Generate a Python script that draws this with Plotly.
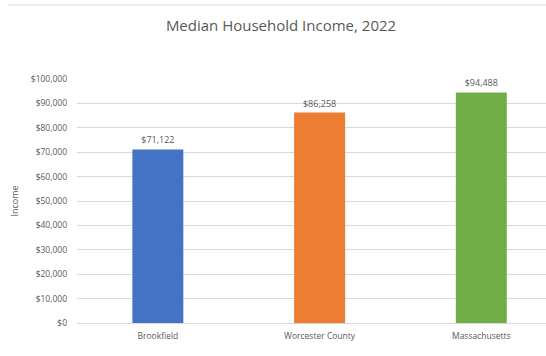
import plotly.graph_objects as go

categories = ["Brookfield", "Worcester County", "Massachusetts"]
values = [71122, 86258, 94488]
colors = ["#4472C4", "#ED7D31", "#70AD47"]
tick_vals = [0, 10000, 20000, 30000, 40000, 50000, 60000, 70000, 80000, 90000, 100000]
tick_text = ["$0", "$10,000", "$20,000", "$30,000", "$40,000", "$50,000",
             "$60,000", "$70,000", "$80,000", "$90,000", "$100,000"]
labels = ["${:,}".format(v) for v in values]

FONT = "Open Sans"
GRAY = "#595959"

fig = go.Figure(go.Bar(
    x=categories, y=values, marker=dict(color=colors, line=dict(width=0)),
    text=labels, textposition="outside", cliponaxis=False,
    textfont=dict(family=FONT, size=9, color=GRAY), width=0.315,
))

fig.update_layout(
    width=546, height=356,
    margin=dict(l=77, r=0, t=79, b=33),
    paper_bgcolor="white", plot_bgcolor="white",
    showlegend=False,
    title=dict(text="Median Household Income, 2022", x=281/546, xanchor="center",
               y=1 - 26/356, yanchor="middle",
               font=dict(family=FONT, size=15, color=GRAY)),
    xaxis=dict(range=[-0.5, 2.4], showgrid=False, showline=True, linecolor="#d9d9d9",
               linewidth=1, ticks="", ticklabelstandoff=5,
               tickfont=dict(family=FONT, size=8.5, color=GRAY)),
    yaxis=dict(range=[0, 100000], tickvals=tick_vals, ticktext=tick_text,
               showgrid=True, gridcolor="#d9d9d9", gridwidth=1, zeroline=False,
               ticks="", ticklabelstandoff=9,
               tickfont=dict(family=FONT, size=8.5, color=GRAY),
               title=dict(text="Income", font=dict(family=FONT, size=9, color=GRAY),
                          standoff=10)),
    shapes=[
        dict(type="line", xref="paper", yref="paper", x0=(8 - 77) / 469, x1=1.0,
             y0=(323 - 5) / 244, y1=(323 - 5) / 244, line=dict(color="#d9d9d9", width=1)),
    ],
)

fig.write_html("out.html")
